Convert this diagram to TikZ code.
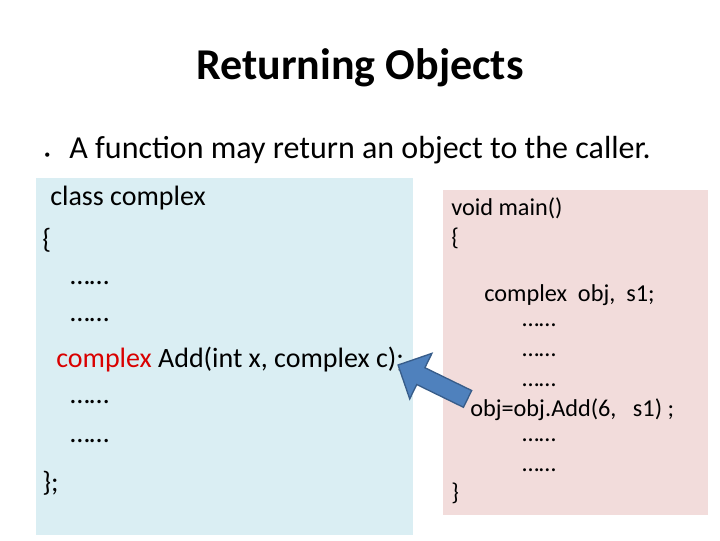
\documentclass[tikz,border=0pt]{standalone}
\usepackage{fontspec}
\setmainfont{Carlito}
\usetikzlibrary{shapes.arrows}
\begin{document}
\begin{tikzpicture}[x=0.75pt,y=-0.75pt,
  code/.style={anchor=west,inner sep=0pt,font=\fontsize{21}{24}\selectfont},
  codep/.style={anchor=west,inner sep=0pt,font=\fontsize{18.2}{20}\selectfont}]
\useasboundingbox (0,0) rectangle (720,540);
\definecolor{lb}{HTML}{DAEEF3}\definecolor{pk}{HTML}{F2DCDB}
\definecolor{ab}{HTML}{4F81BD}\definecolor{abd}{HTML}{385D8A}
\fill[lb] (36,178) rectangle (413,535);
\fill[pk] (443,190) rectangle (708,515);
\node[font=\fontsize{33}{36}\selectfont\bfseries] (t) at (360,68) {Returning Objects};
\node[anchor=west,inner sep=0pt,font=\fontsize{24}{28}\selectfont] (b) at (44,150) {{\small\textbullet}\hspace{0.6em}A function may return an object to the caller.};
\node[code] (l1) at (50,198) {class complex};
\node[code] (l2) at (42,240) {\{};
\node[code] (l3) at (70,283) {……};
\node[code] (l4) at (70,320) {……};
\node[code] (l5) at (56,360) {\textcolor{red!85!black}{complex} Add(int x, complex c);};
\node[code] (l6) at (70,402) {……};
\node[code] (l7) at (70,441) {……};
\node[code] (l8) at (42,483) {\};};
\node[codep] (r1) at (451,208) {void main()};
\node[codep] (r2) at (451,238) {\{};
\node[codep] (r3) at (484,295) {complex\ \ obj,\ \ s1;};
\node[codep] (r4) at (522,325) {……};
\node[codep] (r5) at (522,355) {……};
\node[codep] (r6) at (522,385) {……};
\node[codep] (r7) at (470,410) {obj=obj.Add(6,\ \ \ s1) ;};
\node[codep] (r8) at (522,440) {……};
\node[codep] (r9) at (522,470) {……};
\node[codep] (r10) at (451,493) {\}};
\node[single arrow,draw=abd,line width=1pt,fill=ab,minimum height=58pt,minimum width=38pt,
  single arrow head extend=6pt,inner sep=3pt,rotate=154] (ar) at (437,384) {};
\end{tikzpicture}
\end{document}
